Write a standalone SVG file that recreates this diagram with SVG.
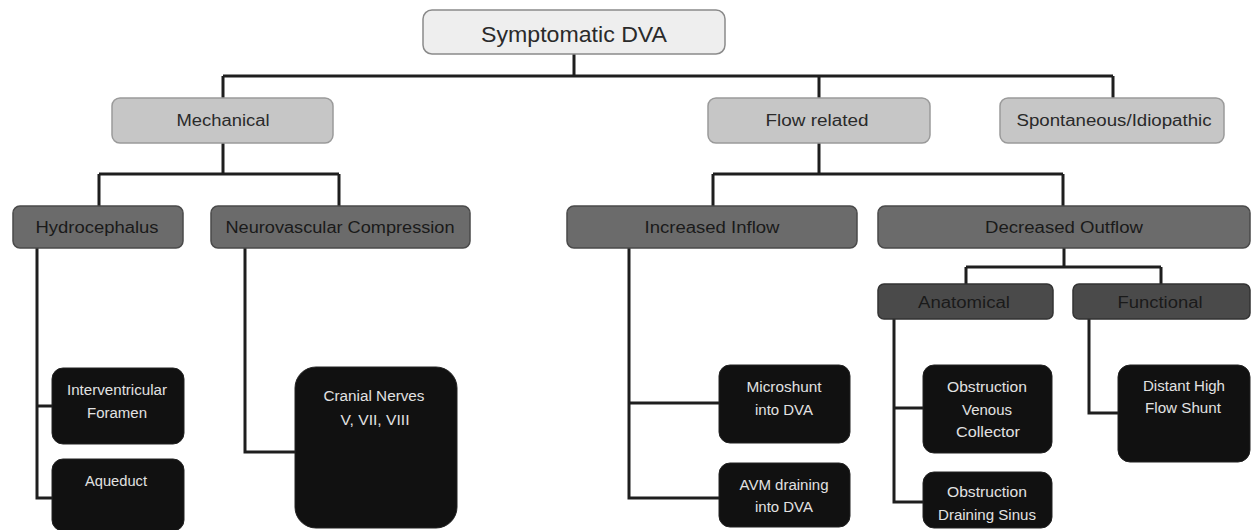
<svg xmlns="http://www.w3.org/2000/svg" width="1254" height="530" viewBox="0 0 1254 530">
<style>
text{font-family:"Liberation Sans",Arial,sans-serif;text-anchor:middle;dominant-baseline:central}
.top rect{fill:#eeeeee;stroke:#8a8a8a;stroke-width:1.5}
.top text{font-size:22px;fill:#2a2a2a}
.l1 rect{fill:#c6c6c6;stroke:#9a9a9a;stroke-width:1.5}
.l1 text{font-size:16px;fill:#2a2a2a}
.l2 rect{fill:#6b6b6b;stroke:#4a4a4a;stroke-width:1.5}
.l2 text{font-size:16px;fill:#1a1a1a}
.l3 rect{fill:#4a4a4a;stroke:#333;stroke-width:1.5}
.l3 text{font-size:16px;fill:#1a1a1a}
.lf rect{fill:#111111;stroke:#222;stroke-width:1}
.lf text{font-size:14px;fill:#e2e2e2}
.conn path{fill:none;stroke:#1e1e1e;stroke-width:3}
</style>
<rect width="1254" height="530" fill="#ffffff"/>
<g class="conn" id="connectors">
<path d="M574,54V76M223,76H1113M223,76V98M819,76V98M1113,76V98"/>
<path d="M223,143V174M99,174H339M99,174V206M339,174V206"/>
<path d="M819,143V174M713,174H1063M713,174V206M1063,174V206"/>
<path d="M37,248V498H52M37,406H52"/>
<path d="M245,248V452H295"/>
<path d="M629,248V498H719M629,403H719"/>
<path d="M1064,248V267M966,267H1161M966,267V284M1161,267V284"/>
<path d="M894,319V502H923M894,408H923"/>
<path d="M1089,319V413H1118"/>
</g>
<g id="n-symptomatic" class="top"><rect x="423" y="10" width="302" height="44" rx="9"/><text x="574" y="34" textLength="186" lengthAdjust="spacingAndGlyphs">Symptomatic DVA</text></g>
<g id="n-mechanical" class="l1"><rect x="112" y="98" width="221" height="45" rx="8"/><text x="223" y="120" textLength="93" lengthAdjust="spacingAndGlyphs">Mechanical</text></g>
<g id="n-flow" class="l1"><rect x="708" y="98" width="222" height="45" rx="8"/><text x="817" y="120" textLength="103" lengthAdjust="spacingAndGlyphs">Flow related</text></g>
<g id="n-spont" class="l1"><rect x="1000" y="98" width="224" height="45" rx="8"/><text x="1114" y="120" textLength="195" lengthAdjust="spacingAndGlyphs">Spontaneous/Idiopathic</text></g>
<g id="n-hydro" class="l2"><rect x="13" y="206" width="170" height="42" rx="7"/><text x="97" y="227" textLength="123" lengthAdjust="spacingAndGlyphs">Hydrocephalus</text></g>
<g id="n-neuro" class="l2"><rect x="211" y="206" width="259" height="42" rx="7"/><text x="340" y="227" textLength="229" lengthAdjust="spacingAndGlyphs">Neurovascular Compression</text></g>
<g id="n-inflow" class="l2"><rect x="567" y="206" width="290" height="42" rx="7"/><text x="712" y="227" textLength="135" lengthAdjust="spacingAndGlyphs">Increased Inflow</text></g>
<g id="n-outflow" class="l2"><rect x="878" y="206" width="372" height="42" rx="7"/><text x="1064" y="227" textLength="158" lengthAdjust="spacingAndGlyphs">Decreased Outflow</text></g>
<g id="n-anat" class="l3"><rect x="878" y="284" width="175" height="35" rx="6"/><text x="964" y="302" textLength="92" lengthAdjust="spacingAndGlyphs">Anatomical</text></g>
<g id="n-func" class="l3"><rect x="1073" y="284" width="177" height="35" rx="6"/><text x="1160" y="302" textLength="85" lengthAdjust="spacingAndGlyphs">Functional</text></g>
<g id="n-interv" class="lf"><rect x="52" y="368" width="132" height="76" rx="11"/><text x="117" y="390" textLength="100" lengthAdjust="spacingAndGlyphs">Interventricular</text><text x="117" y="413" textLength="60" lengthAdjust="spacingAndGlyphs">Foramen</text></g>
<g id="n-aqueduct" class="lf"><rect x="52" y="459" width="132" height="72" rx="11"/><text x="116" y="481" textLength="62" lengthAdjust="spacingAndGlyphs">Aqueduct</text></g>
<g id="n-cranial" class="lf"><rect x="295" y="367" width="162" height="161" rx="21"/><text x="374" y="396" textLength="101" lengthAdjust="spacingAndGlyphs">Cranial Nerves</text><text x="375" y="420" textLength="69" lengthAdjust="spacingAndGlyphs">V, VII, VIII</text></g>
<g id="n-microshunt" class="lf"><rect x="719" y="365" width="131" height="78" rx="11"/><text x="784" y="387" textLength="75" lengthAdjust="spacingAndGlyphs">Microshunt</text><text x="784" y="410" textLength="58" lengthAdjust="spacingAndGlyphs">into DVA</text></g>
<g id="n-avm" class="lf"><rect x="719" y="463" width="131" height="64" rx="11"/><text x="784" y="485" textLength="89" lengthAdjust="spacingAndGlyphs">AVM draining</text><text x="784" y="507" textLength="58" lengthAdjust="spacingAndGlyphs">into DVA</text></g>
<g id="n-obsvc" class="lf"><rect x="923" y="365" width="129" height="88" rx="11"/><text x="987" y="387" textLength="80" lengthAdjust="spacingAndGlyphs">Obstruction</text><text x="987" y="410" textLength="50" lengthAdjust="spacingAndGlyphs">Venous</text><text x="988" y="432" textLength="64" lengthAdjust="spacingAndGlyphs">Collector</text></g>
<g id="n-obsds" class="lf"><rect x="923" y="472" width="129" height="56" rx="11"/><text x="987" y="492" textLength="80" lengthAdjust="spacingAndGlyphs">Obstruction</text><text x="987" y="515" textLength="98" lengthAdjust="spacingAndGlyphs">Draining Sinus</text></g>
<g id="n-distant" class="lf"><rect x="1118" y="365" width="132" height="97" rx="12"/><text x="1184" y="386" textLength="82" lengthAdjust="spacingAndGlyphs">Distant High</text><text x="1183" y="408" textLength="76" lengthAdjust="spacingAndGlyphs">Flow Shunt</text></g>
</svg>
